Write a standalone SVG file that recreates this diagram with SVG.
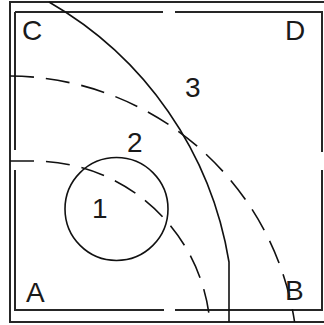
<svg xmlns="http://www.w3.org/2000/svg" width="324" height="325" viewBox="0 0 324 325">
<style>
.wall{fill:none;stroke:#262626;stroke-width:2}
.curve{fill:none;stroke:#111;stroke-width:1.6}
.dash{stroke-dasharray:24 12}
.lbl{font-family:"Liberation Sans",Arial,sans-serif;font-size:28px;fill:#1a1a1a}
</style>
<rect x="0" y="0" width="324" height="325" fill="#ffffff"/>
<g id="walls">
<rect class="wall" x="10" y="2" width="330" height="320"/>
<path class="wall" d="M15 12 H163 M175 12 H322 V152 M322 170 V310 H175 M164 310 H15 V170 M15 150 V12"/>
</g>
<g id="curves">
<path id="curve-solid" class="curve" d="M49 2 A368 368 0 0 1 229 262 L229 322"/>
<path id="curve-3" class="curve dash" d="M10 76 A290 290 0 0 1 294.6 322"/>
<path id="curve-2" class="curve dash" d="M10 161 H33.6 A177 177 0 0 1 209.9 322"/>
<circle id="circle-1" class="curve" cx="116.5" cy="209" r="51.5"/>
</g>
<g id="labels">
<text class="lbl" x="22" y="40">C</text>
<text class="lbl" x="285" y="40">D</text>
<text class="lbl" x="185" y="97">3</text>
<text class="lbl" x="127" y="152">2</text>
<text class="lbl" x="92" y="218">1</text>
<text class="lbl" x="26" y="302">A</text>
<text class="lbl" x="285" y="300">B</text>
</g>
</svg>
